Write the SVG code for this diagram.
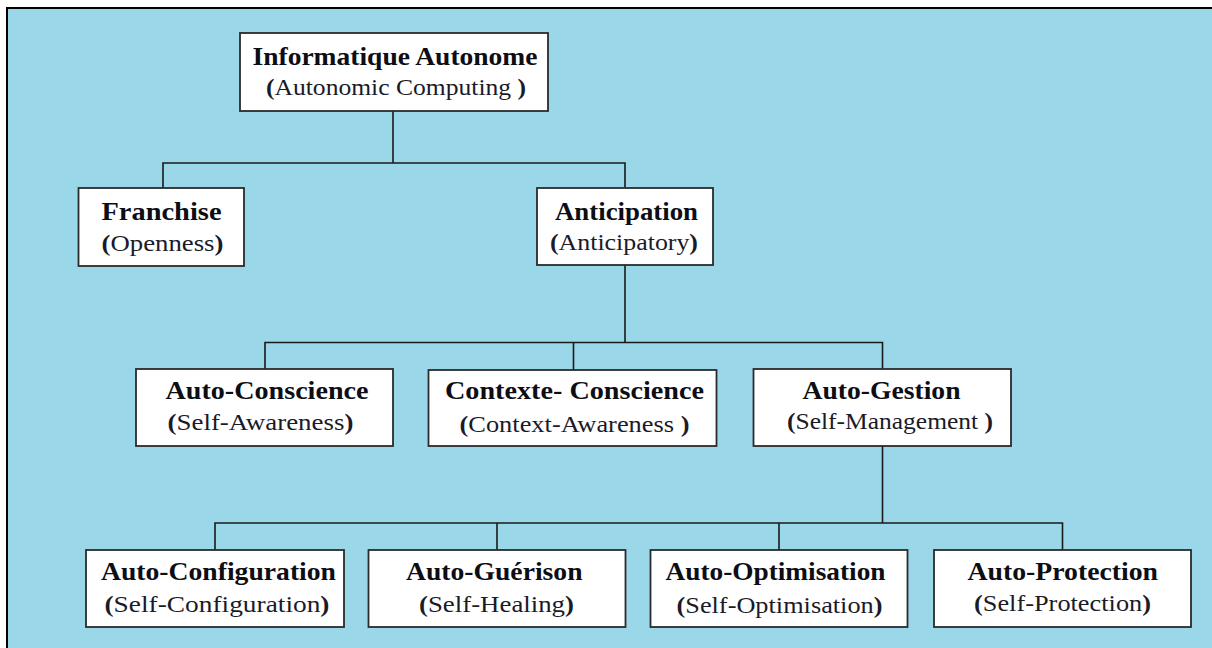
<svg xmlns="http://www.w3.org/2000/svg" width="1212" height="648" viewBox="0 0 1212 648">
  <style>
    .frame { fill: #9ad8e9; stroke: #000; stroke-width: 2; }
    .box { fill: #ffffff; stroke: #2b2b2b; stroke-width: 1.8; }
    .wire { fill: none; stroke: #1a1a1a; stroke-width: 1.6; }
    .t { font-weight: bold; font-size: 25px; fill: #0d0d14; }
    .s { font-size: 23px; fill: #1a1a28; }
    .p { font-weight: bold; }
  </style>

  <rect x="0" y="0" width="1212" height="648" fill="#ffffff"/>
  <rect class="frame" x="7" y="8" width="1215" height="650"/>

  <g id="connectors">
    <polyline class="wire" points="393,111 393,163"/>
    <polyline class="wire" points="163,188 163,163 625,163 625,188"/>
    <polyline class="wire" points="625,265 625,342.5"/>
    <polyline class="wire" points="265,369 265,342.5 882.5,342.5 882.5,369"/>
    <polyline class="wire" points="573.5,342.5 573.5,370"/>
    <polyline class="wire" points="882.5,446 882.5,523"/>
    <polyline class="wire" points="215,550 215,523 1062.5,523 1062.5,550"/>
    <polyline class="wire" points="497,523 497,550"/>
    <polyline class="wire" points="779,523 779,550"/>
  </g>

  <g id="nodes" font-family="Liberation Serif">
  <g id="informatique-autonome">
    <rect class="box" x="240" y="33" width="308" height="78"/>
    <text class="t" font-family="Liberation Serif" x="252.5" y="65" textLength="285" lengthAdjust="spacingAndGlyphs">Informatique Autonome</text>
    <text class="s" font-family="Liberation Serif" x="266" y="95" textLength="260" lengthAdjust="spacingAndGlyphs"><tspan class="p">(</tspan>Autonomic Computing <tspan class="p">)</tspan></text>
  </g>

  <g id="franchise">
    <rect class="box" x="78.5" y="188" width="165.5" height="78"/>
    <text class="t" font-family="Liberation Serif" x="101.5" y="220" textLength="120" lengthAdjust="spacingAndGlyphs">Franchise</text>
    <text class="s" font-family="Liberation Serif" x="101.5" y="251" textLength="122" lengthAdjust="spacingAndGlyphs"><tspan class="p">(</tspan>Openness<tspan class="p">)</tspan></text>
  </g>

  <g id="anticipation">
    <rect class="box" x="537" y="188" width="176" height="77"/>
    <text class="t" font-family="Liberation Serif" x="555" y="220" textLength="143" lengthAdjust="spacingAndGlyphs">Anticipation</text>
    <text class="s" font-family="Liberation Serif" x="550" y="250" textLength="148" lengthAdjust="spacingAndGlyphs"><tspan class="p">(</tspan>Anticipatory<tspan class="p">)</tspan></text>
  </g>

  <g id="auto-conscience">
    <rect class="box" x="136" y="369" width="257" height="77"/>
    <text class="t" font-family="Liberation Serif" x="165.5" y="399" textLength="203" lengthAdjust="spacingAndGlyphs">Auto-Conscience</text>
    <text class="s" font-family="Liberation Serif" x="167.5" y="430" textLength="186" lengthAdjust="spacingAndGlyphs"><tspan class="p">(</tspan>Self-Awareness<tspan class="p">)</tspan></text>
  </g>

  <g id="contexte-conscience">
    <rect class="box" x="428.5" y="370" width="288" height="76"/>
    <text class="t" font-family="Liberation Serif" x="445" y="399" textLength="259" lengthAdjust="spacingAndGlyphs">Contexte- Conscience</text>
    <text class="s" font-family="Liberation Serif" x="459.5" y="431.5" textLength="230" lengthAdjust="spacingAndGlyphs"><tspan class="p">(</tspan>Context-Awareness <tspan class="p">)</tspan></text>
  </g>

  <g id="auto-gestion">
    <rect class="box" x="753.5" y="369" width="257.5" height="77"/>
    <text class="t" font-family="Liberation Serif" x="802.5" y="398.5" textLength="158" lengthAdjust="spacingAndGlyphs">Auto-Gestion</text>
    <text class="s" font-family="Liberation Serif" x="787" y="429" textLength="206" lengthAdjust="spacingAndGlyphs"><tspan class="p">(</tspan>Self-Management <tspan class="p">)</tspan></text>
  </g>

  <g id="auto-configuration">
    <rect class="box" x="86" y="550" width="258" height="77"/>
    <text class="t" font-family="Liberation Serif" x="101" y="580" textLength="235" lengthAdjust="spacingAndGlyphs">Auto-Configuration</text>
    <text class="s" font-family="Liberation Serif" x="104.5" y="612" textLength="225" lengthAdjust="spacingAndGlyphs"><tspan class="p">(</tspan>Self-Configuration<tspan class="p">)</tspan></text>
  </g>

  <g id="auto-guerison">
    <rect class="box" x="368.5" y="550" width="257" height="77"/>
    <text class="t" font-family="Liberation Serif" x="406" y="580" textLength="176.5" lengthAdjust="spacingAndGlyphs">Auto-Guérison</text>
    <text class="s" font-family="Liberation Serif" x="419" y="612" textLength="155" lengthAdjust="spacingAndGlyphs"><tspan class="p">(</tspan>Self-Healing<tspan class="p">)</tspan></text>
  </g>

  <g id="auto-optimisation">
    <rect class="box" x="650.5" y="550" width="257" height="77"/>
    <text class="t" font-family="Liberation Serif" x="665.5" y="580" textLength="220" lengthAdjust="spacingAndGlyphs">Auto-Optimisation</text>
    <text class="s" font-family="Liberation Serif" x="676.5" y="613" textLength="206" lengthAdjust="spacingAndGlyphs"><tspan class="p">(</tspan>Self-Optimisation<tspan class="p">)</tspan></text>
  </g>

  <g id="auto-protection">
    <rect class="box" x="934" y="550" width="257" height="77"/>
    <text class="t" font-family="Liberation Serif" x="967.5" y="580" textLength="190.5" lengthAdjust="spacingAndGlyphs">Auto-Protection</text>
    <text class="s" font-family="Liberation Serif" x="974" y="610.5" textLength="177" lengthAdjust="spacingAndGlyphs"><tspan class="p">(</tspan>Self-Protection<tspan class="p">)</tspan></text>
  </g>
  </g>
</svg>
